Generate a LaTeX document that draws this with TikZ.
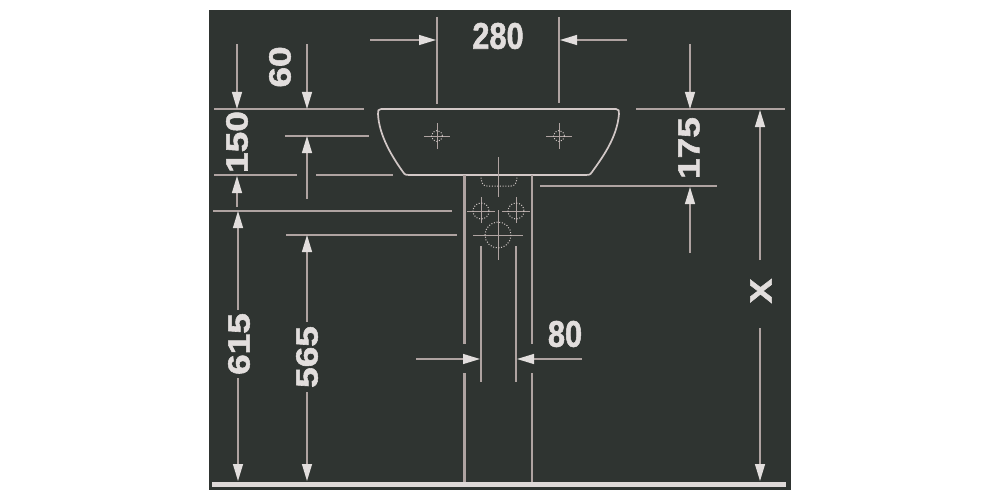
\documentclass[tikz,border=0pt]{standalone}
\usepackage{fontspec}
\setmainfont[BoldFeatures={FakeBold=1.6}]{Liberation Sans}
\usetikzlibrary{arrows.meta}
\definecolor{panelgray}{HTML}{2F3431}
\definecolor{inkgray}{HTML}{D2C8C7}
\definecolor{extgray}{HTML}{AFA3A1}
\definecolor{tipgray}{HTML}{E2DEDD}
\begin{document}
\begin{tikzpicture}[
x=1pt,y=-1pt,
font=\bfseries\fontsize{37}{37}\selectfont,
extline/.style={extgray,line width=1.2pt},
dimline/.style={extgray,line width=1.2pt,-{Triangle[length=17pt,width=10pt,fill=tipgray,color=tipgray]}},
outline/.style={inkgray,line width=1.7pt},
holeline/.style={extgray,line width=.9pt},
dotline/.style={inkgray,line width=1pt,dash pattern=on 1pt off 1.7pt},
dimtext/.style={text=tipgray,inner sep=0pt,xscale=.83},
sidetext/.style={dimtext,rotate=90}
]
    \useasboundingbox (0,0) rectangle (1000,500);
    \fill [panelgray] (209,10) rectangle (791,490);

    % Floor
    \fill [tipgray!92!extgray] (212,482) rectangle (786,487);

    % Basin
    \draw [outline] (381,109) -- (616,109)
        .. controls (619,109) and (619,111) .. (619,114)
        .. controls (617,138) and (602,158) .. (592,172)
        .. controls (590,175) and (589,175) .. (586,175)
        -- (409,175)
        .. controls (406,175) and (405,175) .. (403,172)
        .. controls (393,158) and (379,136) .. (378,114)
        .. controls (378,111) and (378,109) .. (381,109);

    % Pedestal
    \draw [extgray,line width=2.8pt] (464.5,175) -- (464.5,344);
    \draw [extgray,line width=2.8pt] (464.5,373) -- (464.5,482);
    \draw [extgray,line width=2pt] (532,175) -- (532,344);
    \draw [extgray,line width=2pt] (532,373) -- (532,482);
    \draw [extline] (481,246) -- (481,382);
    \draw [extline] (516,246) -- (516,382);
    \draw [holeline] (498,157) -- (498,197);
    \draw [dotline] (481,175) .. controls (481,183) and (483,186) .. (487,186)
        -- (511,186) .. controls (515,186) and (517,183) .. (517,175);

    % Holes
    \foreach \hx in {437,559} {
        \draw [holeline] (\hx-13,136) -- (\hx+13,136);
        \draw [holeline] (\hx,123) -- (\hx,149);
        \draw [dotline] (\hx,136) circle (5.5);
    }
    \foreach \hx in {481,516} {
        \draw [holeline] (\hx-14,211) -- (\hx+14,211);
        \draw [holeline] (\hx,197) -- (\hx,223);
        \draw [dotline] (\hx,211) circle (8);
    }
    \draw [holeline] (473,235) -- (523,235);
    \draw [holeline] (498,210) -- (498,260);
    \draw [dotline] (498,235) circle (13);

    % Extension lines
    \draw [extline] (214,109) -- (364,109);
    \draw [extline] (636,109) -- (785,109);
    \draw [extline] (285,136) -- (369,136);
    \draw [extline] (214,175) -- (297,175);
    \draw [extline] (316,175) -- (393,175);
    \draw [extline] (540,186) -- (717,186);
    \draw [extline] (213,211) -- (452,211);
    \draw [extline] (286,235) -- (457,235);
    \draw [extline] (437,17) -- (437,104);
    \draw [extline] (559,17) -- (559,103);

    % Dimension arrows
    \draw [dimline] (370,40) -- (436,40);
    \draw [dimline] (627,40) -- (560,40);
    \draw [dimline] (237,44) -- (237,109);
    \draw [dimline] (307,44) -- (307,109);
    \draw [dimline] (690,44) -- (690,109);
    \draw [dimline] (690,253) -- (690,187);
    \draw [dimline] (307,199) -- (307,136);
    \draw [dimline] (237,207) -- (237,176);
    \draw [dimline] (238,310) -- (238,211);
    \draw [dimline] (238,378) -- (238,481);
    \draw [dimline] (307,322) -- (307,235);
    \draw [dimline] (307,392) -- (307,481);
    \draw [dimline] (760,260) -- (760,110);
    \draw [dimline] (760,328) -- (760,481);
    \draw [dimline] (416,359) -- (480,359);
    \draw [dimline] (582,359) -- (517,359);

    % Labels
    \node (dimtop) [dimtext] at (498,36) {280};
    \node (dimneck) [dimtext] at (565,334) {80};
    \node (dimsixty) [sidetext] at (280,67) {60};
    \node (dimbowl) [sidetext] at (237,142) {150};
    \node (dimrim) [sidetext] at (689,148) {175};
    \node (dimlow) [sidetext] at (239,344) {615};
    \node (dimdrain) [sidetext] at (307,357) {565};
    \node (dimx) [sidetext] at (761,291) {X};
\end{tikzpicture}
\end{document}
